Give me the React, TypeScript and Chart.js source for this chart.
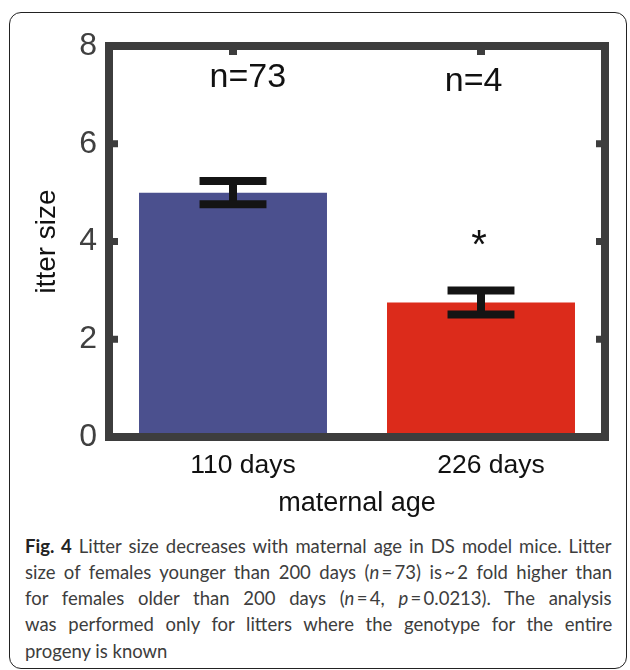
import React, { useEffect, useLayoutEffect, useRef } from 'react';
import { Chart, registerables } from 'chart.js';

Chart.register(...registerables);

// ---- data ----
const categories = ['110 days', '226 days'];
const meanLitterSize = [5.0, 2.75];
const errLitterSize = [0.24, 0.245];
const sampleSizes = [73, 4];
const significance = ['', '*'];
const yTicks = [0, 2, 4, 6, 8];
const barColors = ['#4b508e', '#dc2b1b'];

// annotation anchors (data units: category index, y value)
const nLabelX = [0.06, 0.97];
const nLabelY = [7.16, 7.08];
const starY = 3.66;

const FONT = '"Liberation Sans", Arial, Helvetica, sans-serif';
const AXIS_COLOR = '#3d3d3d';
const T = '\u2009';

const captionLines: { parts: React.ReactNode; justify: boolean }[] = [
  {
    parts: (
      <>
        <b style={{ color: '#222' }}>Fig. 4</b> Litter size decreases with maternal age in DS model mice. Litter
      </>
    ),
    justify: true,
  },
  {
    parts: (
      <>
        size of females younger than 200 days (<i>n</i>{T}={T}73) is{T}~{T}2 fold higher than
      </>
    ),
    justify: true,
  },
  {
    parts: (
      <>
        for females older than 200 days (<i>n</i>{T}={T}4, <i>p</i>{T}={T}0.0213). The analysis
      </>
    ),
    justify: true,
  },
  {
    parts: <>was performed only for litters where the genotype for the entire</>,
    justify: true,
  },
  { parts: <>progeny is known</>, justify: false },
];

const decorPlugin = {
  id: 'decor',
  afterDatasetsDraw(chart: any) {
    const { ctx, chartArea, scales } = chart;
    const xs = scales.x;
    const ys = scales.y;
    const meta = chart.getDatasetMeta(0);
    ctx.save();

    // error bars
    ctx.strokeStyle = '#141414';
    ctx.lineWidth = 8;
    ctx.lineCap = 'butt';
    meta.data.forEach((bar: any, i: number) => {
      const x = bar.x;
      const yt = ys.getPixelForValue(meanLitterSize[i] + errLitterSize[i]);
      const yb = ys.getPixelForValue(meanLitterSize[i] - errLitterSize[i]);
      const half = bar.width * 0.178;
      ctx.beginPath();
      ctx.moveTo(x, yt);
      ctx.lineTo(x, yb);
      ctx.moveTo(x - half, yt);
      ctx.lineTo(x + half, yt);
      ctx.moveTo(x - half, yb);
      ctx.lineTo(x + half, yb);
      ctx.stroke();
    });

    // frame
    ctx.strokeStyle = AXIS_COLOR;
    ctx.lineWidth = 8;
    ctx.lineJoin = 'miter';
    ctx.strokeRect(chartArea.left, chartArea.top, chartArea.right - chartArea.left, chartArea.bottom - chartArea.top);

    // inward ticks
    ctx.fillStyle = AXIS_COLOR;
    yTicks.forEach((v) => {
      if (v === 0 || v === 8) return;
      const y = ys.getPixelForValue(v);
      ctx.fillRect(chartArea.left, y - 3.5, 9, 7);
      ctx.fillRect(chartArea.right - 9, y - 3.5, 9, 7);
    });
    categories.forEach((_, i) => {
      const x = xs.getPixelForValue(i);
      ctx.fillRect(x - 4, chartArea.top, 8, 9);
    });

    // n labels
    ctx.fillStyle = '#111';
    ctx.font = `34px ${FONT}`;
    ctx.textAlign = 'center';
    ctx.textBaseline = 'alphabetic';
    sampleSizes.forEach((n, i) => {
      ctx.fillText(`n=${n}`, xs.getPixelForValue(nLabelX[i]), ys.getPixelForValue(nLabelY[i]));
    });

    // significance
    ctx.font = `40px ${FONT}`;
    significance.forEach((s, i) => {
      if (!s) return;
      ctx.fillText(s, xs.getPixelForValue(i) - 2, ys.getPixelForValue(starY));
    });
    ctx.restore();
  },
};

function BarChart() {
  const ref = useRef<HTMLCanvasElement | null>(null);
  useEffect(() => {
    if (!ref.current) return;
    const chart = new Chart(ref.current, {
      type: 'bar',
      data: {
        labels: categories,
        datasets: [
          {
            data: meanLitterSize,
            backgroundColor: barColors,
            borderWidth: 0,
            barPercentage: 0.758,
            categoryPercentage: 1,
          },
        ],
      },
      options: {
        animation: false,
        responsive: false,
        devicePixelRatio: 1,
        layout: { padding: { top: 46, right: 25, left: 0, bottom: 0 } },
        plugins: { legend: { display: false }, tooltip: { enabled: false } },
        scales: {
          x: {
            type: 'category',
            offset: true,
            grid: { display: false, drawTicks: false },
            border: { display: false },
            ticks: {
              font: { family: FONT, size: 26.5 },
              color: '#111',
              padding: 13,
              labelOffset: 10,
              maxRotation: 0,
              autoSkip: false,
            },
            title: {
              display: true,
              text: 'maternal age',
              font: { family: FONT, size: 27 },
              color: '#111',
              padding: { top: 0, bottom: 10 },
            },
            afterFit(s: any) {
              s.height = 93;
            },
          },
          y: {
            min: 0,
            max: 8,
            afterBuildTicks(s: any) {
              s.ticks = yTicks.map((v) => ({ value: v }));
            },
            grid: { display: false, drawTicks: false },
            border: { display: false },
            ticks: {
              font: { family: FONT, size: 32 },
              color: '#404040',
              padding: 12,
            },
            title: {
              display: true,
              text: 'itter size',
              font: { family: FONT, size: 28 },
              color: '#111',
              padding: { top: 30, bottom: 0 },
            },
            afterFit(s: any) {
              s.width = 109;
            },
          },
        },
      } as any,
      plugins: [decorPlugin],
    });
    return () => chart.destroy();
  }, []);
  return (
    <canvas
      ref={ref}
      width={630}
      height={530}
      style={{ position: 'absolute', left: 0, top: 0, width: 630, height: 530, display: 'block' }}
    />
  );
}

const CAPTION_LEFT = 25;
const CAPTION_WIDTH = 587;
const CAPTION_TOPS = [535.5, 561.8, 588.1, 614.4, 640.8];

function Caption() {
  const refs = useRef<(HTMLDivElement | null)[]>([]);
  useLayoutEffect(() => {
    refs.current.forEach((el, i) => {
      if (!el) return;
      const w = el.scrollWidth;
      if (w > CAPTION_WIDTH) {
        el.style.transformOrigin = 'left top';
        el.style.transform = `scaleX(${CAPTION_WIDTH / w})`;
      } else if (captionLines[i].justify) {
        const n = (el.textContent || '').split(' ').length - 1;
        if (n > 0) el.style.wordSpacing = `${(CAPTION_WIDTH - w) / n}px`;
      }
    });
  }, []);
  return (
    <>
      {captionLines.map((l, i) => (
        <div
          key={i}
          ref={(el) => {
            refs.current[i] = el;
          }}
          style={{
            position: 'absolute',
            left: CAPTION_LEFT,
            top: CAPTION_TOPS[i],
            whiteSpace: 'nowrap',
            fontFamily: 'Lato, "Open Sans", sans-serif',
            fontSize: 18.5,
            lineHeight: '20px',
            color: '#3d3d3d',
          }}
        >
          {l.parts}
        </div>
      ))}
    </>
  );
}

export default function App() {
  return (
    <div style={{ position: 'absolute', left: 0, top: 0, width: 630, height: 670, background: '#fff', overflow: 'hidden' }}>
      <div
        style={{
          position: 'absolute',
          left: 9,
          top: 12,
          width: 616,
          height: 655,
          border: '1.5px solid #222',
          borderRadius: 12,
        }}
      />
      <BarChart />
      <Caption />
    </div>
  );
}
